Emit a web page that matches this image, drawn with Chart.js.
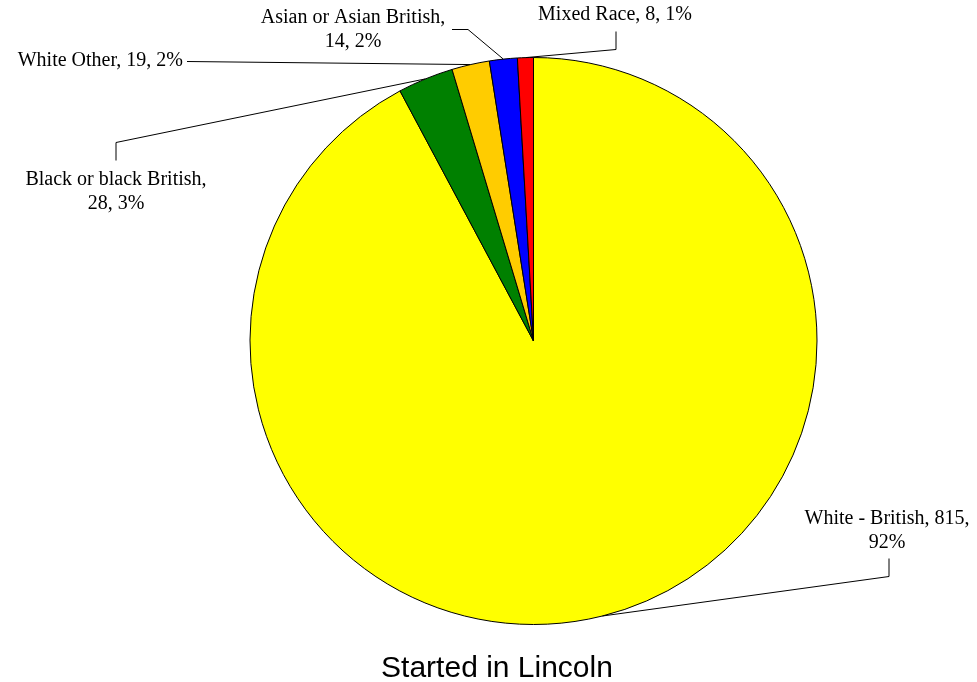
<!DOCTYPE html>
<html>
<head>
<meta charset="utf-8">
<script src="https://cdn.jsdelivr.net/npm/chart.js@4.4.0/dist/chart.umd.min.js"></script>
<style>
  body { margin: 0; background: #fff; }
  canvas { display: block; }
</style>
</head>
<body>
<canvas id="pieChart" width="977" height="682"></canvas>
<script>
// Dados
const categories = ['White - British', 'Black or black British', 'White Other', 'Asian or Asian British', 'Mixed Race'];
const counts = [815, 28, 19, 14, 8];
const percents = ['92%', '3%', '2%', '2%', '1%'];
const sliceColors = ['#FFFF00', '#008000', '#FFCC00', '#0000FF', '#FF0000'];
const chartTitle = 'Started in Lincoln';

// Posicao dos rotulos e das linhas de chamada (mesma ordem das categorias)
const labelLayout = [
    { lines: ['White - British, 815,', '92%'], x: 887, y: 519, align: 'center', start: [889, 558], elbow: [889, 576] },
    { lines: ['Black or black British,', '28, 3%'], x: 116, y: 180, align: 'center', start: [116, 160], elbow: [116, 142] },
    { lines: ['White Other, 19, 2%'], x: 183, y: 61, align: 'right', start: [187, 61], elbow: null },
    { lines: ['Asian or Asian British,', '14, 2%'], x: 353, y: 18, align: 'center', start: [452, 29], elbow: [468, 29] },
    { lines: ['Mixed Race, 8, 1%'], x: 615, y: 15, align: 'center', start: [616, 31], elbow: [616, 49] }
];

const labelsPlugin = {
    id: 'labelsPlugin',
    afterDraw(chart) {
        const ctx = chart.ctx;
        const arcs = chart.getDatasetMeta(0).data;
        ctx.save();
        ctx.strokeStyle = '#000';
        ctx.lineWidth = 1;
        arcs.forEach((arc, i) => {
            const lay = labelLayout[i];
            const mid = (arc.startAngle + arc.endAngle) / 2;
            const ex = arc.x + Math.cos(mid) * arc.outerRadius;
            const ey = arc.y + Math.sin(mid) * arc.outerRadius;
            ctx.beginPath();
            ctx.moveTo(lay.start[0], lay.start[1] + 0.5);
            if (lay.elbow) ctx.lineTo(lay.elbow[0], lay.elbow[1] + 0.5);
            ctx.lineTo(ex, ey);
            ctx.stroke();

            ctx.fillStyle = '#000';
            ctx.font = '20px "Liberation Serif", "Times New Roman", serif';
            ctx.textAlign = lay.align;
            ctx.textBaseline = 'middle';
            lay.lines.forEach((t, k) => ctx.fillText(t, lay.x, lay.y + k * 24));
        });

        ctx.font = '30px "Liberation Sans", Arial, sans-serif';
        ctx.textAlign = 'center';
        ctx.textBaseline = 'alphabetic';
        ctx.fillText(chartTitle, 497, 677);
        ctx.restore();
    }
};

const ctxPie = document.getElementById('pieChart').getContext('2d');
new Chart(ctxPie, {
    type: 'pie',
    data: {
        labels: categories,
        datasets: [{
            data: counts,
            backgroundColor: sliceColors,
            borderColor: '#000',
            borderWidth: 1
        }]
    },
    options: {
        responsive: false,
        animation: false,
        layout: { padding: { top: 57, bottom: 57, left: 249, right: 159 } },
        plugins: {
            legend: { display: false },
            tooltip: { enabled: false }
        }
    },
    plugins: [labelsPlugin]
});
</script>
</body>
</html>
